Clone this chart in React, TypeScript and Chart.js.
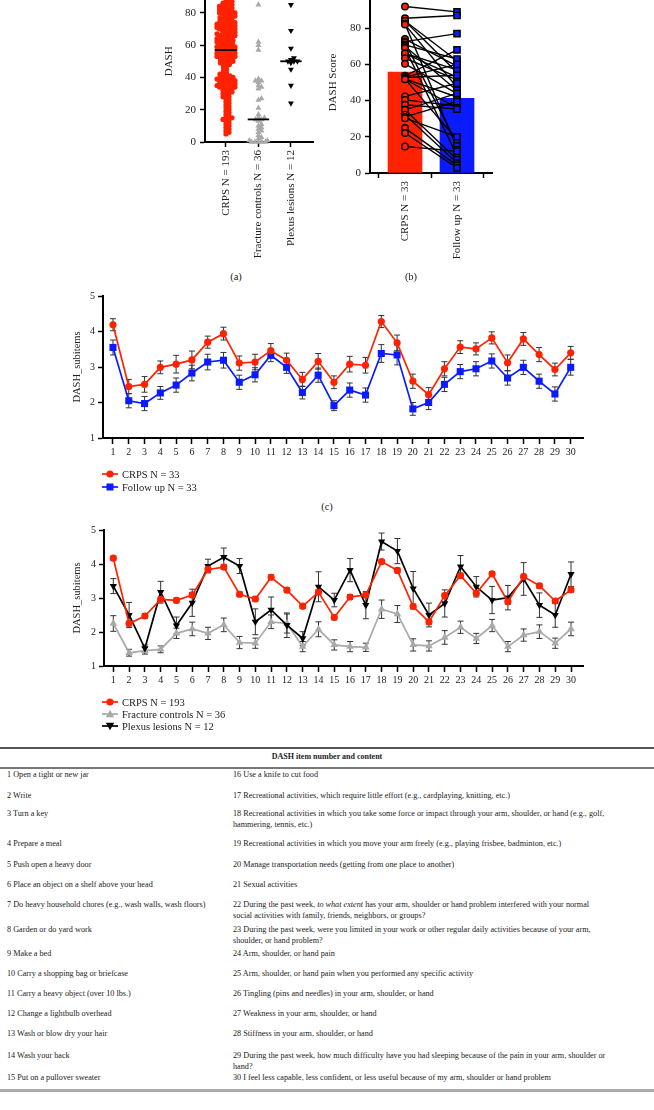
import React, { useEffect, useRef } from 'react';
import { Chart, registerables } from 'chart.js';

Chart.register(...registerables);

const SERIF = "'Liberation Serif', 'Times New Roman', serif";
const RED = '#FF2200';
const BLUE = '#0B1BFF';
const GRAY = '#A9A9A9';
const INK = '#222222';

// ---------- (a) DASH per group ----------
const groupLabelsA = ['CRPS N = 193', 'Fracture controls N = 36', 'Plexus lesions N = 12'];
const crpsDash = [93, 91, 89, 88, 87, 87, 86, 86, 85, 85, 84, 84, 84, 83, 83, 82, 82, 82, 81, 81, 80, 80, 80, 80,
  79, 79, 78, 78, 78, 77, 77, 77, 76, 76, 75, 75, 75, 74, 74, 74, 73, 73, 73, 72, 72, 72, 72, 71, 71, 71, 70, 70, 70, 70,
  69, 69, 68, 68, 68, 67, 67, 67, 66, 66, 66, 65, 65, 65, 64, 64, 64, 63, 63, 63, 62, 62, 62, 61, 61, 61, 60, 60, 60, 60,
  59, 59, 59, 59, 59, 58, 58, 58, 58, 58, 58, 57, 57, 57, 57, 57,
  56, 56, 55, 55, 55, 55, 54, 54, 54, 53, 53, 53, 53, 52, 52, 52, 51, 51, 50, 50, 50,
  49, 49, 48, 48, 47, 46, 45, 44,
  43, 42, 42, 41, 41, 40, 40, 40, 39, 39, 39, 38, 38, 38,
  37, 37, 36, 36, 36, 36, 35, 35, 35, 35, 34, 34, 34, 34, 33, 33, 32, 32, 31, 31, 30, 30,
  29, 28, 28, 27, 26, 25, 24, 23, 22, 21, 20,
  19, 18, 17, 16, 15, 15, 14, 14, 13, 12, 11, 10,
  9, 8, 7, 6, 5];
const fractureDash = [85, 62, 60, 57, 39, 38, 38, 37, 35, 34, 33, 27, 26, 21, 17, 15, 15, 14, 14, 13, 11, 10, 9, 8, 7, 6, 4, 3, 2, 1, 1, 0, 0, 0, 0, 0];
const plexusDash = [85, 69, 58, 52, 51, 50, 50, 50, 49, 45, 35, 24];

// ---------- (b) paired CRPS vs follow up ----------
const pairLabelsB = ['CRPS N = 33', 'Follow up N = 33'];
const crpsPaired = [92, 85.5, 84, 84, 82.4, 82, 74, 72.6, 72, 70.8, 70, 69, 66, 66, 63.4, 60.3, 53.7, 53, 52.8, 52, 52, 51.8, 42.3, 40.4, 37.7, 35, 34.9, 32.2, 31, 30.3, 24.8, 22.1, 14.7];
const followUpPaired = [89, 87, 62, 55.5, 13.8, 47.4, 59, 77, 16.2, 63, 45.6, 9.6, 57, 53, 51.5, 43.8, 68, 60, 54, 18.4, 42, 36, 49.6, 37, 35.3, 7.4, 44, 5.5, 39.5, 20, 4.2, 2.8, 12];
const barMeansB = [55.7, 41.3];

// ---------- (c) subitems CRPS vs follow up ----------
const itemNumbers = [1, 2, 3, 4, 5, 6, 7, 8, 9, 10, 11, 12, 13, 14, 15, 16, 17, 18, 19, 20, 21, 22, 23, 24, 25, 26, 27, 28, 29, 30];
const seriesNamesC = ['CRPS N = 33', 'Follow up N = 33'];
const crps33Mean = [4.19, 2.45, 2.51, 2.99, 3.08, 3.20, 3.70, 3.94, 3.11, 3.14, 3.46, 3.19, 2.65, 3.16, 2.57, 3.08, 3.05, 4.28, 3.68, 2.60, 2.22, 2.95, 3.56, 3.51, 3.82, 3.12, 3.79, 3.35, 2.93, 3.40];
const crps33Sem = [0.17, 0.20, 0.22, 0.18, 0.25, 0.25, 0.17, 0.18, 0.20, 0.22, 0.20, 0.20, 0.20, 0.22, 0.18, 0.22, 0.22, 0.17, 0.22, 0.20, 0.20, 0.20, 0.18, 0.17, 0.17, 0.22, 0.18, 0.20, 0.18, 0.18];
const follow33Mean = [3.55, 2.05, 1.97, 2.27, 2.49, 2.83, 3.14, 3.19, 2.57, 2.78, 3.33, 2.99, 2.28, 2.77, 1.91, 2.35, 2.21, 3.38, 3.34, 1.82, 2.00, 2.51, 2.87, 2.95, 3.17, 2.69, 2.99, 2.60, 2.24, 2.99];
const follow33Sem = [0.21, 0.20, 0.20, 0.18, 0.20, 0.22, 0.22, 0.22, 0.20, 0.20, 0.18, 0.17, 0.18, 0.20, 0.14, 0.20, 0.20, 0.25, 0.28, 0.18, 0.20, 0.20, 0.20, 0.20, 0.20, 0.20, 0.20, 0.20, 0.20, 0.22];

// ---------- (d) subitems per group ----------
const seriesNamesD = ['CRPS N = 193', 'Fracture controls N = 36', 'Plexus lesions N = 12'];
const crps193Mean = [4.17, 2.25, 2.47, 2.96, 2.93, 3.09, 3.84, 3.91, 3.11, 2.97, 3.61, 3.23, 2.76, 3.17, 2.43, 3.03, 3.09, 4.07, 3.81, 2.75, 2.30, 3.07, 3.66, 3.14, 3.71, 2.89, 3.63, 3.36, 2.91, 3.24];
const crps193Sem = [0.06, 0.07, 0.07, 0.07, 0.07, 0.07, 0.07, 0.07, 0.07, 0.07, 0.07, 0.07, 0.07, 0.07, 0.07, 0.07, 0.07, 0.06, 0.07, 0.07, 0.07, 0.07, 0.07, 0.07, 0.06, 0.07, 0.07, 0.07, 0.07, 0.07];
const fractureMean = [2.25, 1.39, 1.45, 1.49, 1.96, 2.09, 1.96, 2.21, 1.69, 1.67, 2.30, 2.25, 1.57, 2.08, 1.62, 1.57, 1.55, 2.67, 2.53, 1.62, 1.59, 1.84, 2.14, 1.81, 2.19, 1.57, 1.91, 2.01, 1.67, 2.09];
const fractureSem = [0.23, 0.10, 0.10, 0.10, 0.15, 0.20, 0.18, 0.20, 0.18, 0.15, 0.20, 0.28, 0.15, 0.22, 0.15, 0.15, 0.12, 0.27, 0.25, 0.18, 0.15, 0.20, 0.18, 0.15, 0.18, 0.15, 0.18, 0.20, 0.15, 0.20];
const plexusMean = [3.35, 2.50, 1.52, 3.17, 2.19, 2.86, 3.94, 4.20, 3.94, 2.30, 2.65, 2.20, 1.81, 3.33, 2.94, 3.82, 2.79, 4.66, 4.38, 3.28, 2.50, 2.84, 3.92, 3.33, 2.94, 3.01, 3.56, 2.79, 2.50, 3.70];
const plexusSem = [0.22, 0.37, 0.10, 0.32, 0.25, 0.40, 0.20, 0.27, 0.22, 0.38, 0.38, 0.36, 0.20, 0.44, 0.20, 0.34, 0.40, 0.25, 0.37, 0.50, 0.35, 0.40, 0.33, 0.30, 0.40, 0.36, 0.48, 0.36, 0.36, 0.36];

// ---------- table ----------
const tableTitle = 'DASH item number and content';
const itemTexts = [
  '1 Open a tight or new jar',
  '2 Write',
  '3 Turn a key',
  '4 Prepare a meal',
  '5 Push open a heavy door',
  '6 Place an object on a shelf above your head',
  '7 Do heavy household chores (e.g., wash walls, wash floors)',
  '8 Garden or do yard work',
  '9 Make a bed',
  '10 Carry a shopping bag or briefcase',
  '11 Carry a heavy object (over 10 lbs.)',
  '12 Change a lightbulb overhead',
  '13 Wash or blow dry your hair',
  '14 Wash your back',
  '15 Put on a pullover sweater',
  '16 Use a knife to cut food',
  '17 Recreational activities, which require little effort (e.g., cardplaying, knitting, etc.)',
  '18 Recreational activities in which you take some force or impact through your arm, shoulder, or hand (e.g., golf,\nhammering, tennis, etc.)',
  '19 Recreational activities in which you move your arm freely (e.g., playing frisbee, badminton, etc.)',
  '20 Manage transportation needs (getting from one place to another)',
  '21 Sexual activities',
  '22 During the past week, *to what extent* has your arm, shoulder or hand problem interfered with your normal\nsocial activities with family, friends, neighbors, or groups?',
  '23 During the past week, were you limited in your work or other regular daily activities because of your arm,\nshoulder, or hand problem?',
  '24 Arm, shoulder, or hand pain',
  '25 Arm, shoulder, or hand pain when you performed any specific activity',
  '26 Tingling (pins and needles) in your arm, shoulder, or hand',
  '27 Weakness in your arm, shoulder, or hand',
  '28 Stiffness in your arm, shoulder, or hand',
  '29 During the past week, how much difficulty have you had sleeping because of the pain in your arm, shoulder or\nhand?',
  '30 I feel less capable, less confident, or less useful because of my arm, shoulder or hand problem',
];
// layout: centre of the first text line of each table row
const tableRowY = [774, 795, 813, 843, 864, 884, 904.5, 929, 953, 973, 993, 1013, 1033, 1055, 1077];

function median(vals: number[]): number {
  const s = [...vals].sort((a, b) => a - b);
  const m = Math.floor(s.length / 2);
  return s.length % 2 ? s[m] : (s[m - 1] + s[m]) / 2;
}

// deterministic beeswarm layout: returns x offsets (in x-axis units)
function swarm(values: number[], pxPerY: number, pxPerX: number, minDist: number, maxHalf: number): number[] {
  const order = values.map((_, i) => i).sort((a, b) => values[a] - values[b]);
  const placed: { x: number; y: number }[] = [];
  const out = new Array(values.length).fill(0);
  const cands: number[] = [0];
  for (let s = 0.5; s <= maxHalf + 1e-9; s += 0.5) cands.push(s, -s);
  for (const i of order) {
    const y = values[i] * pxPerY;
    const near = placed.filter((p) => Math.abs(p.y - y) < minDist);
    let best = 0;
    let bestScore = -Infinity;
    for (const c of cands) {
      let md = Infinity;
      for (const p of near) {
        const d = Math.hypot(p.x - c, p.y - y);
        if (d < md) md = d;
      }
      if (md >= minDist) { best = c; break; }
      if (md > bestScore) { bestScore = md; best = c; }
    }
    placed.push({ x: best, y });
    out[i] = best / pxPerX;
  }
  return out;
}

function axisBase(fontSize: number, tickLength: number, padding: number) {
  return {
    border: { display: true, color: '#000', width: 2 },
    grid: { display: true, drawOnChartArea: false, drawTicks: true, tickLength, tickColor: '#000', tickWidth: 1.5 },
    ticks: { font: { family: SERIF, size: fontSize }, color: INK, padding },
  };
}

const errorBarPlugin = {
  id: 'errorBars',
  beforeDatasetsDraw(chart: any) {
    const ctx = chart.ctx;
    const ys = chart.scales.y;
    chart.data.datasets.forEach((ds: any, di: number) => {
      if (!ds.errors) return;
      const meta = chart.getDatasetMeta(di);
      ctx.save();
      ctx.strokeStyle = '#333';
      ctx.lineWidth = 1;
      meta.data.forEach((pt: any, i: number) => {
        const v = ds.data[i].y;
        const e = ds.errors[i];
        const t = ys.getPixelForValue(v + e);
        const b = ys.getPixelForValue(v - e);
        const x = pt.x;
        ctx.beginPath();
        ctx.moveTo(x, t); ctx.lineTo(x, b);
        ctx.moveTo(x - 3, t); ctx.lineTo(x + 3, t);
        ctx.moveTo(x - 3, b); ctx.lineTo(x + 3, b);
        ctx.stroke();
      });
      ctx.restore();
    });
  },
};

function makeChartA(canvas: HTMLCanvasElement) {
  const cats = [1, 2, 3];
  const groups = [crpsDash, fractureDash, plexusDash];
  const offs = groups.map((g) => swarm(g, 1.617, 32.5, 3.2, 9));
  const pts = groups.map((g, gi) => g.map((v, i) => ({ x: cats[gi] + offs[gi][i], y: v })));
  const medSets = groups.map((g, gi) => {
    const m = median(g);
    return {
      data: [{ x: cats[gi] - 0.33, y: m }, { x: cats[gi] + 0.33, y: m }],
      showLine: true, borderColor: '#000', borderWidth: 1.8, pointRadius: 0, order: 0, clip: false,
    };
  });
  const ax = axisBase(11, 5, 4);
  return new Chart(canvas, {
    type: 'scatter',
    data: {
      datasets: [
        { data: pts[0], pointStyle: 'circle', pointRadius: 2.6, pointBackgroundColor: RED, pointBorderWidth: 0, order: 3, clip: false },
        { data: pts[1], pointStyle: 'triangle', pointRadius: 3.5, pointBackgroundColor: GRAY, pointBorderWidth: 0, order: 2, clip: false },
        { data: pts[2], pointStyle: 'triangle', pointRotation: 180, pointRadius: 3.4, pointBackgroundColor: '#000', pointBorderWidth: 0, order: 1, clip: false },
        ...medSets,
      ] as any,
    },
    options: {
      animation: false, responsive: false, events: [],
      layout: { padding: { top: 10, right: 12, left: 0, bottom: 0 } },
      plugins: { legend: { display: false }, tooltip: { enabled: false } },
      scales: {
        x: {
          type: 'linear', min: 0.354, max: 3.68, offset: false,
          ...ax,
          ticks: { ...ax.ticks, padding: 3, autoSkip: false, minRotation: 90, maxRotation: 90, callback: (v: any) => groupLabelsA[Math.round(v) - 1] },
          afterBuildTicks: (s: any) => { s.ticks = cats.map((v) => ({ value: v })); },
          afterFit: (s: any) => { s.height = 128; },
        },
        y: {
          min: 0, max: 100,
          ...ax,
          ticks: { ...ax.ticks, stepSize: 20 },
          title: { display: true, text: 'DASH', font: { family: SERIF, size: 11 }, color: INK, padding: { top: 13, bottom: 0 } },
          afterFit: (s: any) => { s.width = 55; },
        },
      },
    } as any,
  });
}

function makeChartB(canvas: HTMLCanvasElement) {
  const cats = [1, 2];
  const lineSets = crpsPaired.map((v, i) => ({
    data: [{ x: cats[0], y: v }, { x: cats[1], y: followUpPaired[i] }],
    showLine: true, borderColor: '#000', borderWidth: 1.4, pointRadius: 0, order: 2, clip: false,
  }));
  const ax = axisBase(11, 5, 4);
  return new Chart(canvas, {
    type: 'scatter',
    data: {
      datasets: [
        { type: 'bar', data: barMeansB.map((m, i) => ({ x: cats[i], y: m })), backgroundColor: [RED, BLUE], barThickness: 34, order: 3 },
        ...lineSets,
        { data: crpsPaired.map((v) => ({ x: cats[0], y: v })), pointStyle: 'circle', pointRadius: 3.3, pointBackgroundColor: RED, pointBorderColor: '#000', pointBorderWidth: 1.4, order: 1, clip: false },
        { data: followUpPaired.map((v) => ({ x: cats[1], y: v })), pointStyle: 'rect', pointRadius: 4.4, pointBackgroundColor: BLUE, pointBorderColor: '#000', pointBorderWidth: 1.4, order: 1, clip: false },
      ] as any,
    },
    options: {
      animation: false, responsive: false, events: [],
      layout: { padding: { top: 12, right: 18, left: 0, bottom: 0 } },
      plugins: { legend: { display: false }, tooltip: { enabled: false } },
      scales: {
        x: {
          type: 'linear', min: 0.327, max: 2.673, offset: false,
          ...ax,
          ticks: { ...ax.ticks, padding: 3, autoSkip: false, minRotation: 90, maxRotation: 90, callback: (v: any) => pairLabelsB[Math.round(v) - 1] },
          afterBuildTicks: (s: any) => { s.ticks = cats.map((v) => ({ value: v })); },
          afterFit: (s: any) => { s.height = 107; },
        },
        y: {
          min: 0, max: 100,
          ...ax,
          ticks: { ...ax.ticks, stepSize: 20 },
          title: { display: true, text: 'DASH Score', font: { family: SERIF, size: 11 }, color: INK, padding: { top: 6.5, bottom: 0 } },
          afterFit: (s: any) => { s.width = 50; },
        },
      },
    } as any,
  });
}

type Series = { mean: number[]; sem: number[]; color: string; style: string; rot: number; radius: number; order: number };

function makeLineChart(canvas: HTMLCanvasElement, series: Series[], xMin: number, xMax: number, padTop: number, xHeight: number, yWidth: number) {
  const ax = axisBase(10, 5, 3);
  return new Chart(canvas, {
    type: 'scatter',
    data: {
      datasets: series.map((s) => ({
        data: itemNumbers.map((n, i) => ({ x: n, y: s.mean[i] })),
        errors: s.sem,
        showLine: true,
        borderColor: s.color, borderWidth: 1.7,
        pointStyle: s.style, pointRotation: s.rot, pointRadius: s.radius,
        pointBackgroundColor: s.color, pointBorderColor: s.color, pointBorderWidth: 0,
        order: s.order, clip: false,
      })) as any,
    },
    plugins: [errorBarPlugin],
    options: {
      animation: false, responsive: false, events: [],
      layout: { padding: { top: padTop, right: 17, left: 0, bottom: 0 } },
      plugins: { legend: { display: false }, tooltip: { enabled: false } },
      scales: {
        x: {
          type: 'linear', min: xMin, max: xMax, offset: false,
          ...ax,
          grid: { ...ax.grid, tickLength: 6 },
          ticks: { ...ax.ticks, padding: 2, autoSkip: false, maxRotation: 0, minRotation: 0, callback: (v: any) => String(v) },
          afterBuildTicks: (s: any) => { s.ticks = itemNumbers.map((v) => ({ value: v })); },
          afterFit: (s: any) => { s.height = xHeight; },
        },
        y: {
          min: 1, max: 5,
          ...ax,
          ticks: { ...ax.ticks, stepSize: 1 },
          title: { display: true, text: 'DASH_subitems', font: { family: SERIF, size: 10.5 }, color: INK, padding: { top: 10.7, bottom: 0 } },
          afterFit: (s: any) => { s.width = yWidth; },
        },
      },
    } as any,
  });
}

function LegendIcon({ color, shape }: { color: string; shape: string }) {
  return (
    <svg width={16} height={10} style={{ position: 'absolute', left: 0, top: 1.5 }}>
      <line x1={0} y1={5} x2={16} y2={5} stroke={color} strokeWidth={1.7} />
      {shape === 'circle' && <circle cx={8} cy={5} r={3.6} fill={color} />}
      {shape === 'square' && <rect x={4.5} y={1.5} width={7} height={7} fill={color} />}
      {shape === 'triUp' && <polygon points="8,0.8 12.2,8.2 3.8,8.2" fill={color} />}
      {shape === 'triDown' && <polygon points="3.8,1.8 12.2,1.8 8,9.2" fill={color} />}
    </svg>
  );
}

function Legend({ names, colors, shapes, top, step }: { names: string[]; colors: string[]; shapes: string[]; top: number; step: number }) {
  return (
    <>
      {names.map((n, i) => (
        <div key={n} style={{ position: 'absolute', left: 102, top: top + i * step - 6.5, height: 13, fontSize: 10.5, lineHeight: '13px', color: INK, whiteSpace: 'nowrap' }}>
          <LegendIcon color={colors[i]} shape={shapes[i]} />
          <span style={{ position: 'absolute', left: 20, top: 0 }}>{n}</span>
        </div>
      ))}
    </>
  );
}

function rich(text: string) {
  return text.split('*').map((part, i) => (i % 2 ? <i key={i}>{part}</i> : <React.Fragment key={i}>{part}</React.Fragment>));
}

export default function App() {
  const refA = useRef<HTMLCanvasElement>(null);
  const refB = useRef<HTMLCanvasElement>(null);
  const refC = useRef<HTMLCanvasElement>(null);
  const refD = useRef<HTMLCanvasElement>(null);

  useEffect(() => {
    const charts: Chart[] = [];
    charts.push(makeChartA(refA.current!));
    charts.push(makeChartB(refB.current!));
    charts.push(makeLineChart(refC.current!, [
      { mean: crps33Mean, sem: crps33Sem, color: RED, style: 'circle', rot: 0, radius: 3.6, order: 1 },
      { mean: follow33Mean, sem: follow33Sem, color: BLUE, style: 'rect', rot: 0, radius: 5, order: 2 },
    ], 0.367, 30.78, 11, 32, 43));
    charts.push(makeLineChart(refD.current!, [
      { mean: crps193Mean, sem: crps193Sem, color: RED, style: 'circle', rot: 0, radius: 3.6, order: 1 },
      { mean: fractureMean, sem: fractureSem, color: GRAY, style: 'triangle', rot: 0, radius: 4.4, order: 3 },
      { mean: plexusMean, sem: plexusSem, color: '#000', style: 'triangle', rot: 180, radius: 4.2, order: 2 },
    ], 0.41, 30.76, 15, 34, 44));
    return () => charts.forEach((c) => c.destroy());
  }, []);

  const canvasStyle = (left: number, top: number, w: number, h: number): React.CSSProperties => ({ position: 'absolute', left, top, width: w, height: h });
  const panelLabel = (t: string, cx: number, cy: number) => (
    <div style={{ position: 'absolute', left: cx - 20, top: cy - 7, width: 40, textAlign: 'center', fontSize: 10.5, lineHeight: '14px', color: INK }}>{t}</div>
  );
  const cellStyle = (left: number, y: number): React.CSSProperties => ({ position: 'absolute', left, top: y - 5.5, fontSize: 8.2, lineHeight: '11px', color: INK, whiteSpace: 'pre' });

  return (
    <div style={{ position: 'absolute', left: 0, top: 0, width: 654, height: 1110, overflow: 'hidden', background: '#fff', fontFamily: SERIF }}>
      <canvas ref={refA} width={175} height={300} style={canvasStyle(150, -30, 175, 300)} />
      <canvas ref={refB} width={190} height={300} style={canvasStyle(320, -20, 190, 300)} />
      {panelLabel('(a)', 236, 277)}
      {panelLabel('(b)', 411, 277)}

      <canvas ref={refC} width={540} height={185} style={canvasStyle(60, 285, 540, 185)} />
      <Legend names={seriesNamesC} colors={[RED, BLUE]} shapes={['circle', 'square']} top={474} step={13} />
      {panelLabel('(c)', 327, 507)}

      <canvas ref={refD} width={540} height={185} style={canvasStyle(60, 515, 540, 185)} />
      <Legend names={seriesNamesD} colors={[RED, GRAY, '#000']} shapes={['circle', 'triUp', 'triDown']} top={702} step={12} />

      <div style={{ position: 'absolute', left: 0, top: 747, width: 654, height: 2, background: '#555' }} />
      <div style={{ position: 'absolute', left: 0, top: 751, width: 654, textAlign: 'center', fontWeight: 'bold', fontSize: 8, lineHeight: '12px', color: INK }}>{tableTitle}</div>
      <div style={{ position: 'absolute', left: 0, top: 767, width: 654, height: 1.5, background: '#777' }} />
      {tableRowY.map((y, i) => (
        <React.Fragment key={i}>
          <div style={cellStyle(7, y)}>{rich(itemTexts[i])}</div>
          <div style={cellStyle(233, y)}>{rich(itemTexts[i + 15])}</div>
        </React.Fragment>
      ))}
      <div style={{ position: 'absolute', left: 0, top: 1088.5, width: 654, height: 3, background: '#aaa' }} />
    </div>
  );
}
